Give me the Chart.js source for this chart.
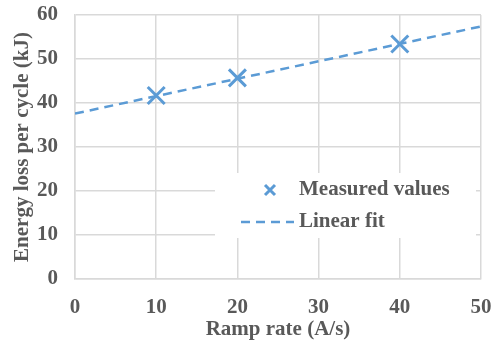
<!DOCTYPE html>
<html><head><meta charset="utf-8">
<script src="https://cdn.jsdelivr.net/npm/chart.js@4/dist/chart.umd.min.js"></script>
<style>html,body{margin:0;padding:0;background:#fff}#w{width:496px;height:346px;position:relative}</style>
</head><body><div id="w"><canvas id="c"></canvas></div>
<script>
const rampRates = [10, 20, 40];
const measuredEnergy = [41.7, 45.7, 53.4];
const fitX = [0, 50];
const fitY = [37.6, 57.4];
const xTicks = [0, 10, 20, 30, 40, 50];
const yTicks = [0, 10, 20, 30, 40, 50, 60];
const seriesNames = ['Measured values', 'Linear fit'];
const xTitle = 'Ramp rate (A/s)';
const yTitle = 'Energy loss per cycle (kJ)';

const BLUE = '#5b9bd5', TXT = '#595959', GRID = '#d9d9d9';
const FONT = {family: '"Liberation Serif","Times New Roman",serif', size: 21, weight: 'bold'};

const legendPlugin = {
  id: 'insideLegend',
  afterDraw(chart) {
    const ctx = chart.ctx;
    ctx.save();
    ctx.fillStyle = '#fff';
    ctx.fillRect(215, 173, 261, 65);
    ctx.font = 'bold 21px "Liberation Serif","Times New Roman",serif';
    ctx.fillStyle = TXT;
    ctx.textBaseline = 'middle';
    ctx.fillText(seriesNames[0], 299, 190);
    ctx.fillText(seriesNames[1], 299, 222);
    ctx.strokeStyle = BLUE;
    ctx.lineWidth = 3;
    ctx.beginPath();
    ctx.moveTo(265, 185); ctx.lineTo(275, 195);
    ctx.moveTo(275, 185); ctx.lineTo(265, 195);
    ctx.stroke();
    ctx.lineWidth = 2.5;
    ctx.setLineDash([9, 6]);
    ctx.beginPath();
    ctx.moveTo(241, 222); ctx.lineTo(294, 222);
    ctx.stroke();
    ctx.restore();
  }
};

new Chart(document.getElementById('c'), {
  type: 'scatter',
  data: {
    datasets: [
      {label: seriesNames[0], data: rampRates.map((x, i) => ({x, y: measuredEnergy[i]})),
       pointStyle: 'crossRot', pointRadius: 12, pointBorderWidth: 3, borderColor: BLUE, backgroundColor: BLUE, showLine: false, order: 1},
      {label: seriesNames[1], data: fitX.map((x, i) => ({x, y: fitY[i]})),
       showLine: true, pointRadius: 0, borderColor: BLUE, borderWidth: 2.5, borderDash: [9, 6], order: 2}
    ]
  },
  options: {
    responsive: true, maintainAspectRatio: false, animation: false,
    layout: {padding: {left: 0, right: 13, top: 13, bottom: 0}},
    plugins: {legend: {display: false}, tooltip: {enabled: false}},
    scales: {
      x: {type: 'linear', min: 0, max: 50,
        afterBuildTicks: s => { s.ticks = xTicks.map(v => ({value: v})); },
        afterFit: s => { s.height = 67; s.paddingLeft = 0; s.paddingRight = 0; },
        grid: {color: GRID, lineWidth: 1.5, drawTicks: false},
        border: {color: GRID, width: 1.5},
        ticks: {font: FONT, color: TXT, padding: 16},
        title: {display: true, text: xTitle, font: FONT, color: TXT, padding: {top: 6}}
      },
      y: {type: 'linear', min: 0, max: 60,
        afterBuildTicks: s => { s.ticks = yTicks.map(v => ({value: v})); },
        afterFit: s => { s.width = 75; s.paddingTop = 0; s.paddingBottom = 0; },
        grid: {color: GRID, lineWidth: 1.5, drawTicks: false},
        border: {color: GRID, width: 1.5},
        ticks: {font: FONT, color: TXT, padding: 17},
        title: {display: true, text: yTitle, font: FONT, color: TXT, padding: {top: 10, bottom: 4}}
      }
    }
  },
  plugins: [legendPlugin]
});
</script></body></html>
